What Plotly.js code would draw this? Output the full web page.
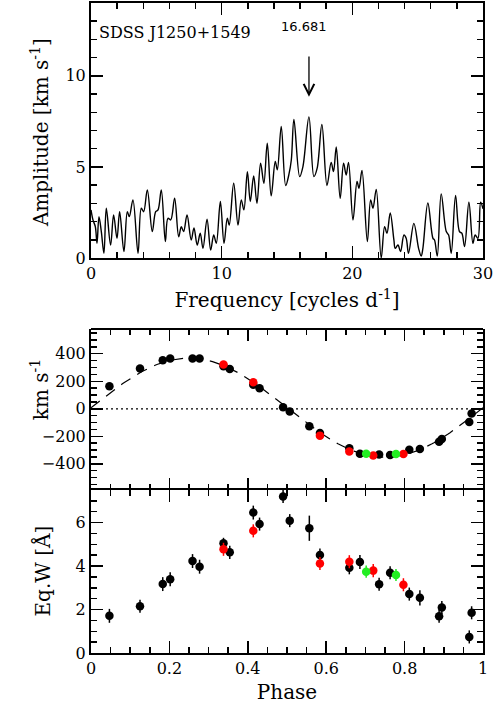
<!DOCTYPE html>
<html>
<head>
<meta charset="utf-8">
<script src="https://cdn.plot.ly/plotly-3.0.1.min.js"></script>
<style>html,body{margin:0;padding:0;background:#fff;}#chart{width:498px;height:707px;}</style>
</head>
<body>
<div id="chart"></div>
<script>
// ---- Periodogram (top panel) ----
const freq = [0.00,0.15,0.33,0.46,0.61,0.79,0.99,1.17,1.50,1.73,1.99,2.19,2.52,2.78,2.93,3.21,3.60,3.85,4.03,4.31,4.69,4.95,5.13,5.38,5.69,5.89,6.10,6.40,6.71,6.91,7.09,7.35,7.67,7.88,8.13,8.36,8.57,8.88,9.16,9.39,9.59,9.90,10.18,10.43,10.58,10.92,11.25,11.50,11.70,11.97,12.19,12.45,12.70,12.98,13.23,13.49,13.79,14.10,14.26,14.56,14.90,15.15,15.33,15.53,15.97,16.22,16.68,17.06,17.31,17.67,18.06,18.38,18.56,18.77,19.07,19.33,19.53,19.71,20.05,20.36,20.51,20.74,21.15,21.40,21.58,21.83,22.21,22.47,22.65,22.90,23.18,23.28,23.49,23.69,23.95,24.12,24.30,24.71,25.07,25.27,25.40,25.78,26.17,26.29,26.50,26.80,27.19,27.37,27.57,27.90,28.20,28.38,28.59,28.92,29.23,29.40,29.61,29.82,30.00];
const amp  = [2.64,2.09,1.72,0.81,2.27,1.45,0.26,2.73,0.71,2.36,1.08,2.54,0.35,2.54,2.27,3.19,0.26,2.73,2.54,3.74,1.45,2.54,2.64,3.74,0.90,2.18,2.09,3.28,1.17,1.72,1.45,2.36,0.99,1.65,0.71,1.36,0.53,2.13,0.44,1.26,0.81,3.10,0.81,2.18,1.81,4.10,1.81,3.19,2.64,4.74,3.10,4.50,3.00,5.20,4.10,6.30,3.41,5.30,4.84,7.22,3.98,4.60,5.38,7.60,4.47,5.02,7.75,4.47,4.93,7.33,3.98,5.25,4.74,6.10,3.28,5.20,4.56,5.25,2.09,4.20,3.83,4.80,0.90,3.19,2.73,3.77,0.00,1.72,1.36,2.47,0.99,0.53,0.71,0.35,1.26,1.08,0.26,1.90,0.53,0.10,0.53,3.02,1.08,0.99,0.10,3.52,1.45,1.26,0.26,3.43,1.45,1.36,0.63,3.06,0.81,1.26,1.08,3.06,2.70];
const peakFreq = 16.681;
const peakLabel = '16.681';
const starName = 'SDSS J1250+1549';

// ---- Radial velocities and equivalent widths ----
const phaseBlack = [0.047,0.125,0.183,0.202,0.259,0.277,0.338,0.354,0.414,0.430,0.490,0.507,0.557,0.584,0.659,0.686,0.735,0.763,0.812,0.839,0.888,0.895,0.965,0.971];
const rvBlack    = [164,292,353,365,365,365,309,290,174,149,11,-20,-127,-176,-287,-326,-333,-336,-297,-292,-239,-219,-96,-35];
const rvErrBlack = [12,12,12,12,12,12,12,12,12,12,12,12,15,12,12,12,12,12,12,12,12,12,12,12];
const ewBlack    = [1.71,2.15,3.17,3.39,4.23,3.97,5.05,4.63,6.46,5.93,7.20,6.09,5.74,4.51,3.92,4.19,3.16,3.69,2.71,2.54,1.69,2.09,0.74,1.85];
const ewErrBlack = [0.32,0.30,0.32,0.32,0.32,0.32,0.25,0.30,0.32,0.30,0.30,0.30,0.58,0.30,0.30,0.32,0.30,0.30,0.30,0.35,0.30,0.30,0.30,0.30];

const phaseRed = [0.338,0.414,0.584,0.659,0.720,0.797];
const rvRed    = [321,193,-195,-311,-340,-328];
const rvErrRed = [12,12,12,12,12,12];
const ewRed    = [4.77,5.62,4.12,4.20,3.79,3.14];
const ewErrRed = [0.30,0.30,0.30,0.30,0.30,0.30];

const phaseGreen = [0.702,0.778];
const rvGreen    = [-326,-328];
const rvErrGreen = [12,12];
const ewGreen    = [3.74,3.59];
const ewErrGreen = [0.28,0.28];

// sine fit parameters
const fitK = 360, fitGamma = 8, fitPhase0 = 0.0;
const fitPhase = [];
const fitRV = [];
for (let i = 0; i <= 200; i++) {
  const p = i / 200;
  fitPhase.push(p);
  fitRV.push(fitGamma + fitK * Math.sin(2 * Math.PI * (p - fitPhase0)));
}

const BLACK = '#000000', RED = '#ff0000', GREEN = '#22ee22';
const MS = 8.5;

function pts(x, y, err, col, xa, ya) {
  return {
    x: x, y: y, xaxis: xa, yaxis: ya, type: 'scatter', mode: 'markers',
    marker: {color: col, size: MS},
    error_y: {type: 'data', array: err, visible: true, color: col, thickness: 1.5, width: 0},
    cliponaxis: true, hoverinfo: 'skip'
  };
}

const traces = [
  {x: freq, y: amp, type: 'scatter', mode: 'lines', line: {color: BLACK, width: 1.4, shape: 'spline', smoothing: 1}, xaxis: 'x', yaxis: 'y'},
  {x: [0, 1], y: [0, 0], type: 'scatter', mode: 'lines', line: {color: BLACK, width: 1.2, dash: '2px,3px'}, xaxis: 'x2', yaxis: 'y2'},
  {x: fitPhase, y: fitRV, type: 'scatter', mode: 'lines', line: {color: BLACK, width: 1.2, dash: '11px,8px'}, xaxis: 'x2', yaxis: 'y2'},
  pts(phaseBlack, rvBlack, rvErrBlack, BLACK, 'x2', 'y2'),
  pts(phaseRed, rvRed, rvErrRed, RED, 'x2', 'y2'),
  pts(phaseGreen, rvGreen, rvErrGreen, GREEN, 'x2', 'y2'),
  pts(phaseBlack, ewBlack, ewErrBlack, BLACK, 'x3', 'y3'),
  pts(phaseRed, ewRed, ewErrRed, RED, 'x3', 'y3'),
  pts(phaseGreen, ewGreen, ewErrGreen, GREEN, 'x3', 'y3')
];

const tickFont = {family: 'DejaVu Serif', size: 16, color: '#000'};
const titleFont = {family: 'DejaVu Serif', size: 20, color: '#000'};
function ax(extra) {
  return Object.assign({
    showline: true, linewidth: 2, linecolor: '#000', mirror: 'ticks',
    ticks: 'inside', ticklen: 12, tickwidth: 1.5, tickcolor: '#000',
    showgrid: false, zeroline: false, tickfont: tickFont, fixedrange: true
  }, extra);
}
function minor(d) {
  return {dtick: d, ticks: 'inside', ticklen: 6, tickwidth: 1.5, tickcolor: '#000', showgrid: false};
}
function ytitle(text, yref, yfrac, xpaper) {
  return {xref: 'paper', yref: yref, x: xpaper, y: yfrac, text: text, showarrow: false,
          textangle: -90, xanchor: 'center', yanchor: 'middle', font: titleFont};
}

const layout = {
  width: 498, height: 707,
  margin: {l: 91, r: 15, t: 3, b: 54},
  paper_bgcolor: '#fff', plot_bgcolor: '#fff',
  showlegend: false,
  font: {family: 'DejaVu Serif', color: '#000'},
  xaxis: ax({domain: [0, 1], anchor: 'y', range: [0, 30], tick0: 0, dtick: 10, minor: minor(2),
    title: {text: 'Frequency [cycles d<sup>-1</sup>]', font: titleFont, standoff: 11}}),
  yaxis: ax({domain: [0.6077, 1], anchor: 'x', range: [0, 14], tick0: 0, dtick: 5, minor: minor(1)}),
  xaxis2: ax({domain: [0, 1], anchor: 'y2', range: [0, 1], tick0: 0, dtick: 0.2, minor: minor(0.05),
    showticklabels: false, showline: false}),
  yaxis2: ax({domain: [0.2508, 0.4985], anchor: 'x2', range: [-590, 580], tick0: 0, dtick: 200, minor: minor(50)}),
  xaxis3: ax({domain: [0, 1], anchor: 'y3', range: [0, 1], tick0: 0, dtick: 0.2, minor: minor(0.05),
    title: {text: 'Phase', font: titleFont, standoff: 8}}),
  yaxis3: ax({domain: [0, 0.2508], anchor: 'x3', range: [0, 7.5], tick0: 0, dtick: 2, minor: minor(0.5)}),
  shapes: [
    {type: 'line', xref: 'x2 domain', yref: 'y2 domain', x0: 0, x1: 1, y0: 1, y1: 1,
     line: {color: '#000', width: 2}}
  ],
  annotations: [
    ytitle('Amplitude [km s<sup>-1</sup>]', 'y domain', 0.49, -0.13),
    ytitle('km s<sup>-1</sup>', 'y2 domain', 0.62, -0.13),
    ytitle('Eq.W [Å]', 'y3 domain', 0.5, -0.125),
    {xref: 'x', yref: 'y', x: 0.44, y: 12.36, text: starName, showarrow: false, xanchor: 'left', yanchor: 'middle',
     font: {family: 'DejaVu Serif', size: 16, color: '#000'}},
    {xref: 'x', yref: 'y', x: 16.3, y: 12.69, text: peakLabel, showarrow: false, xanchor: 'center', yanchor: 'middle',
     font: {family: 'DejaVu Sans', size: 13, color: '#000'}},
    {xref: 'x', yref: 'y', axref: 'x', ayref: 'y', x: peakFreq, y: 8.85, ax: peakFreq, ay: 11.15, text: '',
     showarrow: true, arrowhead: 5, arrowsize: 1.6, arrowwidth: 1.3, arrowcolor: '#000', standoff: 0, startstandoff: 0}
  ]
};

Plotly.newPlot('chart', traces, layout, {staticPlot: true, displayModeBar: false});
</script>
</body>
</html>
